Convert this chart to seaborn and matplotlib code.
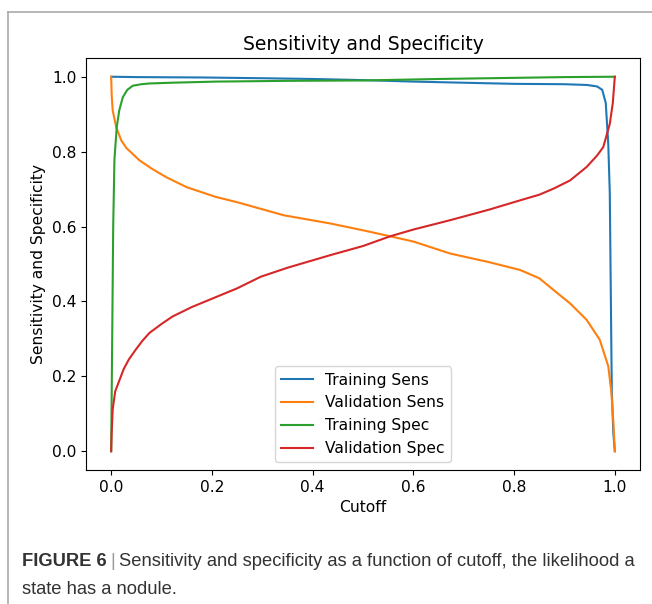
import pandas as pd
import matplotlib.pyplot as plt
import seaborn as sns
from matplotlib.lines import Line2D

# ------------------------------
# Data
# ------------------------------
series_names = ['Training Sens', 'Validation Sens', 'Training Spec', 'Validation Spec']
series_colors = ['#1f77b4', '#ff7f0e', '#2ca02c', '#d62728']

train_sens_x = [0, 0.05, 0.18, 0.3, 0.4, 0.5, 0.6, 0.7, 0.8, 0.9, 0.945, 0.965,
                0.975, 0.982, 0.987, 0.99, 0.994, 0.997, 1.0]
train_sens_y = [1.0, 0.999, 0.998, 0.996, 0.994, 0.991, 0.987, 0.984, 0.981, 0.980,
                0.978, 0.974, 0.965, 0.93, 0.82, 0.69, 0.16, 0.05, 0.0]

val_sens_x = [0, 0.001, 0.003, 0.01, 0.02, 0.03, 0.056, 0.08, 0.109, 0.15, 0.208,
              0.25, 0.343, 0.436, 0.5, 0.554, 0.6, 0.673, 0.75, 0.812, 0.85, 0.878,
              0.911, 0.944, 0.97, 0.987, 0.993, 0.997, 1.0]
val_sens_y = [1.0, 0.95, 0.91, 0.865, 0.83, 0.81, 0.777, 0.755, 0.732, 0.705, 0.679,
              0.665, 0.63, 0.608, 0.59, 0.574, 0.56, 0.528, 0.505, 0.484, 0.462, 0.431,
              0.395, 0.351, 0.298, 0.227, 0.16, 0.08, 0.0]

train_spec_x = [0, 0.002, 0.004, 0.0065, 0.011, 0.016, 0.023, 0.032, 0.043, 0.06,
                0.076, 0.12, 0.208, 0.35, 0.5, 0.65, 0.8, 0.9, 1.0]
train_spec_y = [0, 0.3, 0.6, 0.78, 0.865, 0.91, 0.945, 0.965, 0.976, 0.98, 0.982,
                0.984, 0.987, 0.989, 0.99, 0.994, 0.997, 0.999, 1.0]

val_spec_x = [0, 0.001, 0.003, 0.008, 0.0165, 0.025, 0.035, 0.048, 0.062, 0.076, 0.1,
              0.122, 0.16, 0.205, 0.25, 0.297, 0.35, 0.436, 0.5, 0.554, 0.6, 0.673,
              0.75, 0.812, 0.85, 0.878, 0.911, 0.944, 0.965, 0.977, 0.99, 0.996, 1.0]
val_spec_y = [0, 0.05, 0.112, 0.16, 0.19, 0.22, 0.245, 0.27, 0.295, 0.316, 0.34,
              0.36, 0.385, 0.41, 0.435, 0.466, 0.49, 0.524, 0.548, 0.574, 0.592, 0.617,
              0.645, 0.67, 0.685, 0.701, 0.723, 0.759, 0.79, 0.812, 0.874, 0.93, 1.0]

caption_bold = 'FIGURE 6'
caption_line1 = 'Sensitivity and specificity as a function of cutoff, the likelihood a'
caption_line2 = 'state has a nodule.'

# ------------------------------
# Long table for seaborn
# ------------------------------
frames = []
for name, xs, ys in [('Training Sens', train_sens_x, train_sens_y),
                     ('Validation Sens', val_sens_x, val_sens_y),
                     ('Training Spec', train_spec_x, train_spec_y),
                     ('Validation Spec', val_spec_x, val_spec_y)]:
    frames.append(pd.DataFrame({'Cutoff': xs, 'value': ys, 'series': name}))
df = pd.concat(frames, ignore_index=True)

# ------------------------------
# Figure
# ------------------------------
plt.rcParams['font.size'] = 11.2

fig = plt.figure(figsize=(6.52, 6.04), dpi=100)
ax = fig.add_axes([86 / 652, 1 - 470 / 604, (640 - 86) / 652, (470 - 58) / 604])

sns.lineplot(data=df, x='Cutoff', y='value', hue='series', hue_order=series_names,
             palette=series_colors, estimator=None, sort=False, linewidth=1.5, ax=ax)

ax.set_title('Sensitivity and Specificity', fontsize=13.5)
ax.set_xlabel('Cutoff')
ax.set_ylabel('Sensitivity and Specificity')
ax.set_xticks([0.0, 0.2, 0.4, 0.6, 0.8, 1.0])
ax.set_yticks([0.0, 0.2, 0.4, 0.6, 0.8, 1.0])
ax.set_xlim(-0.05, 1.05)
ax.set_ylim(-0.05, 1.05)
sns.move_legend(ax, 'lower center', title=None)

# page frame
fig.add_artist(Line2D([8 / 652, 1.0], [1 - 12 / 604, 1 - 12 / 604], color='#aaaaaa', lw=1.2))
fig.add_artist(Line2D([8 / 652, 8 / 652], [0.0, 1 - 12 / 604], color='#aaaaaa', lw=1.2))

# caption
cap_font = 'Liberation Sans'
cap_size = 13.2
y1 = 1 - 562 / 604
y2 = 1 - 590 / 604
t1 = fig.text(22 / 652, y1, caption_bold, family=cap_font, size=cap_size,
              fontweight='bold', color='#333333', va='center')
renderer = fig.canvas.get_renderer()
x_next = t1.get_window_extent(renderer).x1 / fig.bbox.width
t2 = fig.text(x_next + 0.006, y1, '|', family=cap_font, size=cap_size,
              color='#999999', va='center')
x_next = t2.get_window_extent(renderer).x1 / fig.bbox.width
fig.text(x_next + 0.006, y1, caption_line1, family=cap_font, size=cap_size,
         color='#333333', va='center')
fig.text(22 / 652, y2, caption_line2, family=cap_font, size=cap_size,
         color='#333333', va='center')

plt.savefig('out.png', dpi=100)
